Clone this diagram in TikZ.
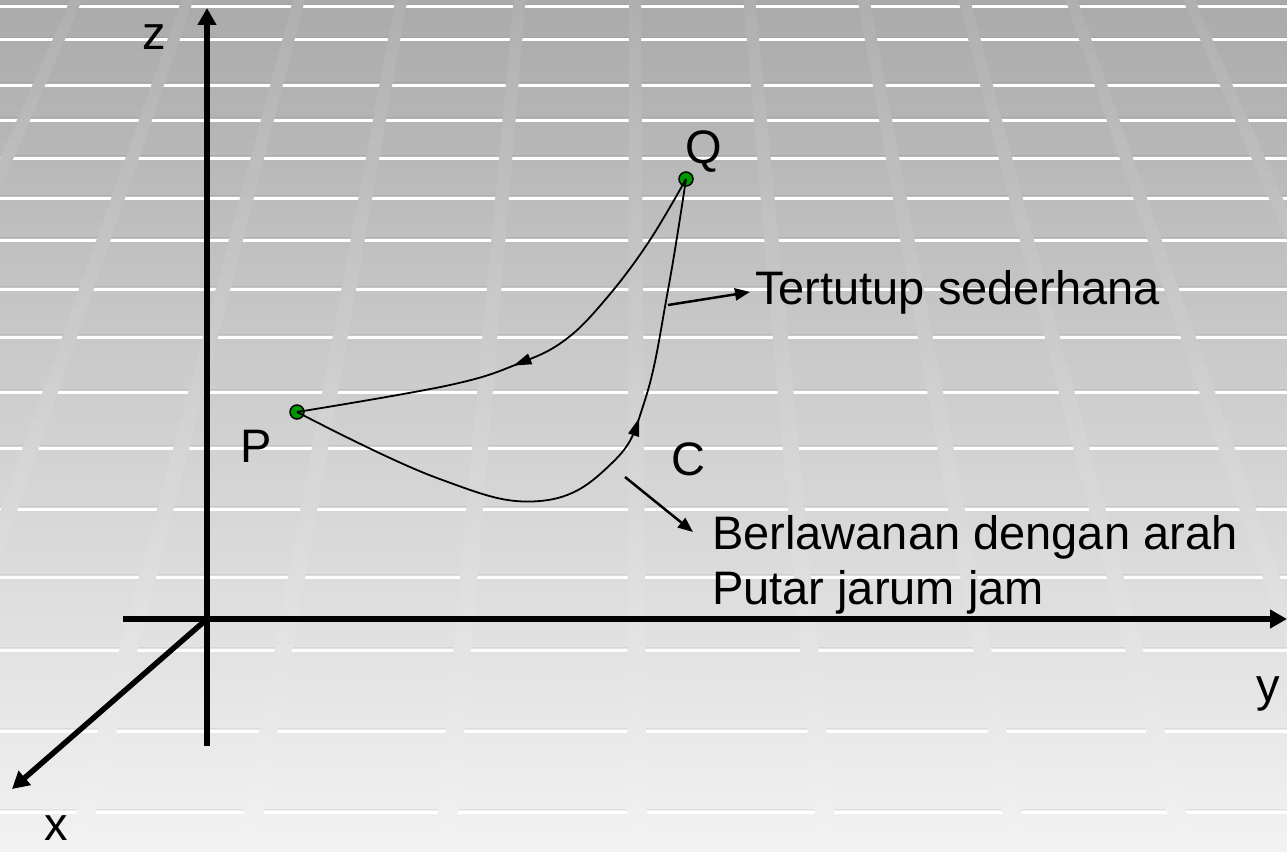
\documentclass[tikz,border=0pt]{standalone}
\usepackage{fontspec}
\setmainfont{Liberation Sans}
\usetikzlibrary{arrows.meta,decorations.markings}
\definecolor{bgtop}{RGB}{170,170,170}
\definecolor{bgmid}{RGB}{208,208,208}
\definecolor{bgbot}{RGB}{242,242,242}
\definecolor{dotgreen}{RGB}{0,150,0}
\begin{document}
\begin{tikzpicture}[x=1pt,y=-1pt,
  bgshade/.style={top color=bgtop, bottom color=bgbot, middle color=bgmid},
  axis/.style={line width=5.5pt, -{Triangle[length=17pt,width=18pt]}},
  curve/.style={line width=1.8pt},
  ptr/.style={line width=2.5pt, -{Triangle[length=15pt,width=12pt]}},
  lbl/.style={font=\fontsize{47}{56}\selectfont, inner sep=0pt},
  dot/.style={circle, minimum size=14pt, inner sep=0pt, fill=dotgreen, draw=black, line width=1.5pt},
  midarrow/.style={postaction={decorate}, decoration={markings,
     mark=at position #1 with {\arrow{Triangle[length=18pt,width=11pt]}}}}
]
\useasboundingbox (0,0) rectangle (1287,851);
% background
\shade[bgshade] (0,0) rectangle (1287,851);
\foreach \yy in {7,40,85,120,158,198,240,289,337,392,448,509,577,650,731,812} {
  \draw[line width=1.5pt, black, opacity=0.06] (0,\yy-2.5) -- (1287,\yy-2.5);
  \draw[line width=3pt, white] (0,\yy) -- (1287,\yy);
}
\begin{scope}
\clip \foreach \xt in {73,185,297,400,519,635,750,865,966,1074,1192} {
  ({632+(\xt-638)*0.9945},0) -- ({632+(\xt-626)*0.9945},0) --
  ({632+(\xt-626)*1.6604},851) -- ({632+(\xt-638)*1.6604},851) -- cycle };
\shade[bgshade] (0,0) rectangle (1287,851);
\fill[white,opacity=0.07] (0,0) rectangle (1287,851);
\end{scope}
% axes
\coordinate (zb) at (207,746);
\coordinate (zt) at (207,8);
\coordinate (yl) at (123,619);
\coordinate (yt) at (1287,619);
\coordinate (O) at (207,619);
\coordinate (xt) at (12,789);
\draw[axis] (zb) -- (zt);
\draw[axis] (yl) -- (yt);
\draw[axis] (O) -- (xt);
% points
\node[dot] (Q) at (686,179) {};
\node[dot] (P) at (297,412) {};
% curves
\draw[curve, midarrow=0.54] plot[smooth, tension=0.65] coordinates
  {(Q.center) (648,243) (605,300) (565,340) (520,363) (450,385) (P.center)};
\draw[curve, midarrow=0.62] plot[smooth, tension=0.7] coordinates
  {(P.center) (437,478) (540,501) (612,463) (645,400) (668,290) (Q.center)};
% pointers
\coordinate (c1) at (668,305);
\coordinate (t1) at (750,292);
\coordinate (c2) at (625,477);
\coordinate (t2) at (693,532);
\draw[ptr] (c1) -- (t1);
\draw[ptr] (c2) -- (t2);
% labels
\node[lbl, anchor=base] (zl) at (154,50) {z};
\node[lbl, anchor=base] (xl) at (56,840) {x};
\node[lbl, anchor=base] (yl2) at (1268,701) {y};
\node[lbl, anchor=base] (ql) at (704,163) {Q};
\node[lbl, anchor=base] (pl) at (256,462) {P};
\node[lbl, anchor=base] (cl) at (688,475) {C};
\node[lbl, anchor=base west] (tl) at (755,304) {Tertutup sederhana};
\node[lbl, anchor=base west] (bl1) at (712,549) {Berlawanan dengan arah};
\node[lbl, anchor=base west] (bl2) at (712,604) {Putar jarum jam};
\end{tikzpicture}
\end{document}
